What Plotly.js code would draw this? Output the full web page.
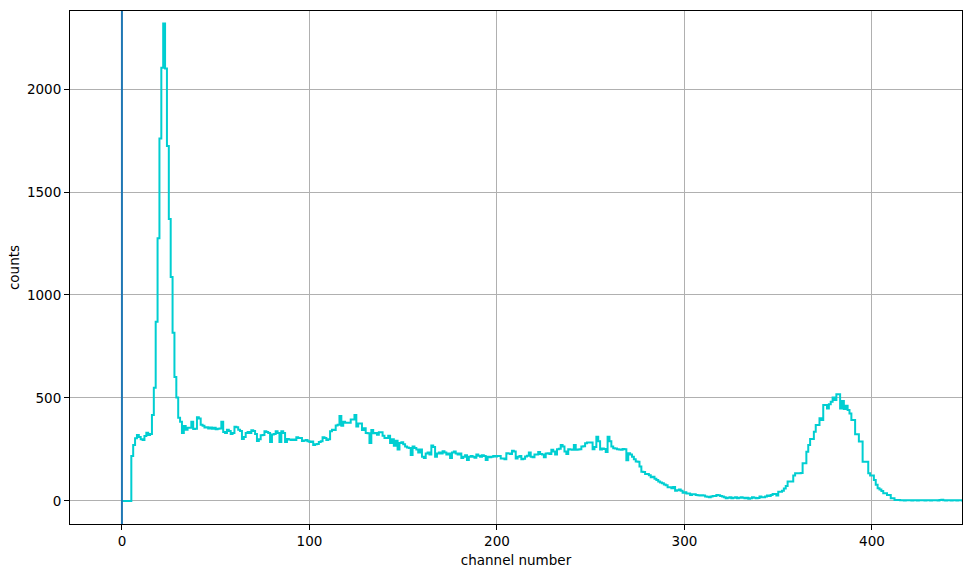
<!DOCTYPE html>
<html>
<head>
<meta charset="utf-8">
<script src="https://cdn.plot.ly/plotly-3.0.1.min.js"></script>
<style>
  html, body { margin: 0; padding: 0; background: #fff; }
  #spectrum { width: 975px; height: 577px; }
</style>
</head>
<body>
<div id="spectrum"></div>
<script>
/* Pulse height spectrum: counts per channel */
var firstChannel = 0;

// channels 0-99 : noise edge + big low-energy peak
var counts0 = [
    0, 0, 0, 0, 0, 218, 272, 304, 320, 310,
    300, 296, 315, 331, 320, 325, 417, 550, 870, 1275,
    1760, 2103, 2318, 2100, 1723, 1369, 1087, 817, 602, 502,
    404, 385, 330, 364, 346, 355, 355, 384, 349, 350,
    406, 400, 370, 365, 356, 358, 352, 356, 350, 355,
    348, 350, 352, 385, 335, 330, 346, 340, 325, 330,
    360, 358, 346, 340, 301, 310, 330, 335, 330, 343,
    340, 325, 291, 300, 319, 320, 338, 335, 330, 286,
    322, 325, 338, 330, 286, 338, 330, 286, 301, 298,
    296, 298, 296, 309, 306, 305, 291, 293, 296, 290
];
// channels 100-199 : compton continuum
var counts1 = [
    286, 288, 272, 275, 276, 286, 290, 309, 305, 296,
    300, 338, 346, 345, 366, 370, 413, 365, 385, 380,
    380, 380, 395, 395, 417, 361, 376, 376, 345, 353,
    330, 329, 281, 345, 329, 330, 321, 333, 333, 317,
    306, 306, 317, 281, 300, 268, 292, 250, 281, 285,
    275, 264, 260, 257, 223, 264, 257, 250, 235, 250,
    215, 208, 230, 235, 225, 269, 262, 215, 230, 235,
    230, 241, 235, 225, 230, 208, 235, 240, 230, 225,
    230, 208, 215, 222, 199, 215, 218, 215, 210, 225,
    220, 215, 222, 218, 199, 215, 212, 215, 218, 216
];
// channels 200-299 : compton edge
var counts2 = [
    218, 218, 206, 206, 202, 231, 230, 228, 244, 240,
    206, 215, 218, 202, 205, 216, 220, 235, 214, 212,
    225, 225, 238, 228, 226, 212, 230, 231, 228, 248,
    240, 225, 251, 254, 272, 264, 240, 228, 251, 250,
    248, 272, 248, 250, 251, 264, 265, 280, 284, 284,
    284, 251, 262, 312, 290, 250, 255, 252, 238, 312,
    290, 264, 256, 255, 251, 250, 248, 252, 251, 198,
    231, 225, 215, 202, 191, 190, 167, 142, 140, 131,
    131, 125, 115, 118, 108, 102, 94, 90, 86, 80,
    76, 66, 66, 62, 68, 50, 52, 55, 50, 40
];
// channels 300-399 : valley + photopeak
var counts3 = [
    42, 36, 36, 29, 32, 33, 29, 28, 26, 27,
    26, 21, 20, 18, 21, 24, 24, 29, 27, 24,
    21, 18, 13, 15, 18, 13, 15, 18, 13, 15,
    18, 15, 13, 15, 11, 13, 18, 15, 13, 14,
    21, 18, 18, 21, 26, 24, 29, 34, 34, 26,
    45, 45, 50, 60, 73, 94, 94, 94, 123, 134,
    134, 134, 136, 183, 183, 239, 272, 301, 301, 336,
    369, 369, 401, 393, 466, 466, 449, 470, 482, 502,
    490, 518, 518, 449, 485, 446, 462, 441, 425, 393,
    393, 324, 324, 288, 288, 190, 190, 190, 134, 123
];
// channels 400-449 : tail
var counts4 = [
    123, 102, 78, 62, 55, 48, 37, 37, 29, 29,
    13, 13, 5, 5, 4, 3, 3, 2, 3, 3,
    3, 2, 3, 3, 2, 3, 3, 3, 2, 3,
    3, 2, 3, 3, 3, 2, 4, 6, 3, 2,
    3, 3, 2, 3, 3, 2, 3, 3, 2, 3
];

var xTicks = [0, 100, 200, 300, 400];
var yTicks = [0, 500, 1000, 1500, 2000];

var counts = counts0.concat(counts1, counts2, counts3, counts4);
var channels = counts.map(function (c, i) { return firstChannel + i; });

var font = {family: 'DejaVu Sans, sans-serif', size: 13.5, color: '#000'};

var trace0 = {
    x: channels,
    y: counts,
    mode: 'lines',
    type: 'scatter',
    line: {color: '#00CED1', width: 2, shape: 'hv'},
    hoverinfo: 'x+y'
};

var layout0 = {
    width: 975,
    height: 577,
    paper_bgcolor: '#fff',
    plot_bgcolor: '#fff',
    font: font,
    showlegend: false,
    margin: {t: 11, r: 13, l: 70, b: 53},
    xaxis: {
        title: {text: 'channel number', font: font, standoff: 7},
        range: [-27.7, 448],
        tickvals: xTicks,
        ticks: 'outside', ticklen: 5, tickwidth: 1, tickcolor: '#000',
        showline: true, linecolor: '#000', linewidth: 1, mirror: true,
        showgrid: true, gridcolor: '#b0b0b0', gridwidth: 1,
        zeroline: false, automargin: false
    },
    yaxis: {
        title: {text: 'counts', font: font, standoff: 4},
        range: [-112, 2379],
        tickvals: yTicks,
        ticks: 'outside', ticklen: 5, tickwidth: 1, tickcolor: '#000',
        showline: true, linecolor: '#000', linewidth: 1, mirror: true,
        showgrid: true, gridcolor: '#b0b0b0', gridwidth: 1,
        zeroline: false, automargin: false
    },
    shapes: [{
        // marker line at channel 0
        type: 'line', xref: 'x', yref: 'paper',
        x0: 0, x1: 0, y0: 0, y1: 1,
        line: {color: '#1f77b4', width: 2}
    }]
};

Plotly.newPlot('spectrum', [trace0], layout0, {displayModeBar: false, staticPlot: true});
</script>
</body>
</html>
